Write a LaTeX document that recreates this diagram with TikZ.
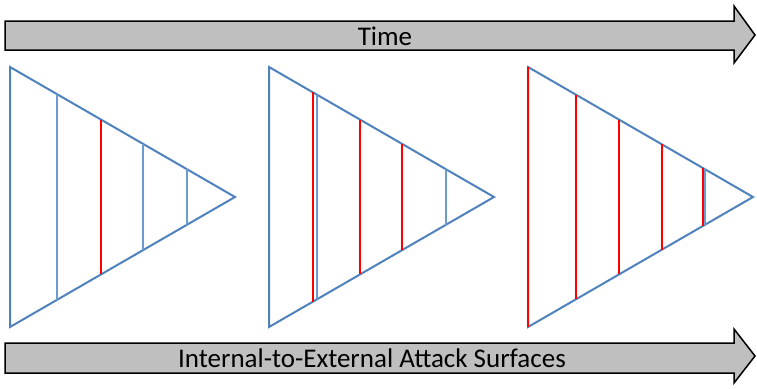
\documentclass[tikz,border=0pt]{standalone}
\usepackage{fontspec}
\setmainfont{Carlito}
\usepackage{tikz}
\usetikzlibrary{
  calc,
  positioning
}
\definecolor{asBlue}{HTML}{4F81BD}
\definecolor{asLine}{HTML}{6C9BD2}
\definecolor{asHit}{HTML}{FF0000}
\definecolor{asBar}{HTML}{BFBFBF}
\tikzset{
  bararrow/.style={draw=black, fill=asBar, line width=1.5pt, line join=miter},
  bartext/.style={font=\fontsize{27}{31}\selectfont, inner sep=0pt},
  surface/.style={draw=asBlue, line width=2pt, line join=miter},
  layer/.style={draw=asLine, line width=2pt},
  hit/.style={draw=asHit, line width=2.5pt}
}

\begin{document}
\begin{tikzpicture}[x=1pt, y=-1pt]
  \useasboundingbox (0,0) rectangle (757,388);

  % time and surface bars
  \draw[bararrow] (5,21) -- (734,21) -- (734,6) -- (755,35) -- (734,63) -- (734,50) -- (5,50) -- cycle;
  \node[bartext] (time) at (385,36) {Time};
  \draw[bararrow] (5,343) -- (734,343) -- (734,329) -- (755,356) -- (734,383) -- (734,373) -- (5,373) -- cycle;
  \node[bartext] (surfaces) at (372,358) {Internal-to-External Attack Surfaces};

  % the three triangles
  \foreach \i/\L in {1/10, 2/269, 3/528} {
    \coordinate (top\i) at (\L,67);
    \coordinate (bot\i) at (\L,327);
    \coordinate (tip\i) at (\L+225,197);
    \draw[surface] (top\i) -- (tip\i) -- (bot\i) -- cycle;
  }

  % layers inside
  \foreach \i/\f/\c in {1/0.209/layer, 1/0.404/hit, 1/0.591/layer, 1/0.787/layer,
                        2/0.213/layer, 2/0.196/hit, 2/0.404/hit, 2/0.591/hit, 2/0.787/layer,
                        3/0/hit, 3/0.213/hit, 3/0.404/hit, 3/0.596/hit, 3/0.787/layer, 3/0.778/hit} {
    \draw[\c] ($(top\i)!\f!(tip\i)$) -- ($(bot\i)!\f!(tip\i)$);
  }
\end{tikzpicture}
\end{document}
